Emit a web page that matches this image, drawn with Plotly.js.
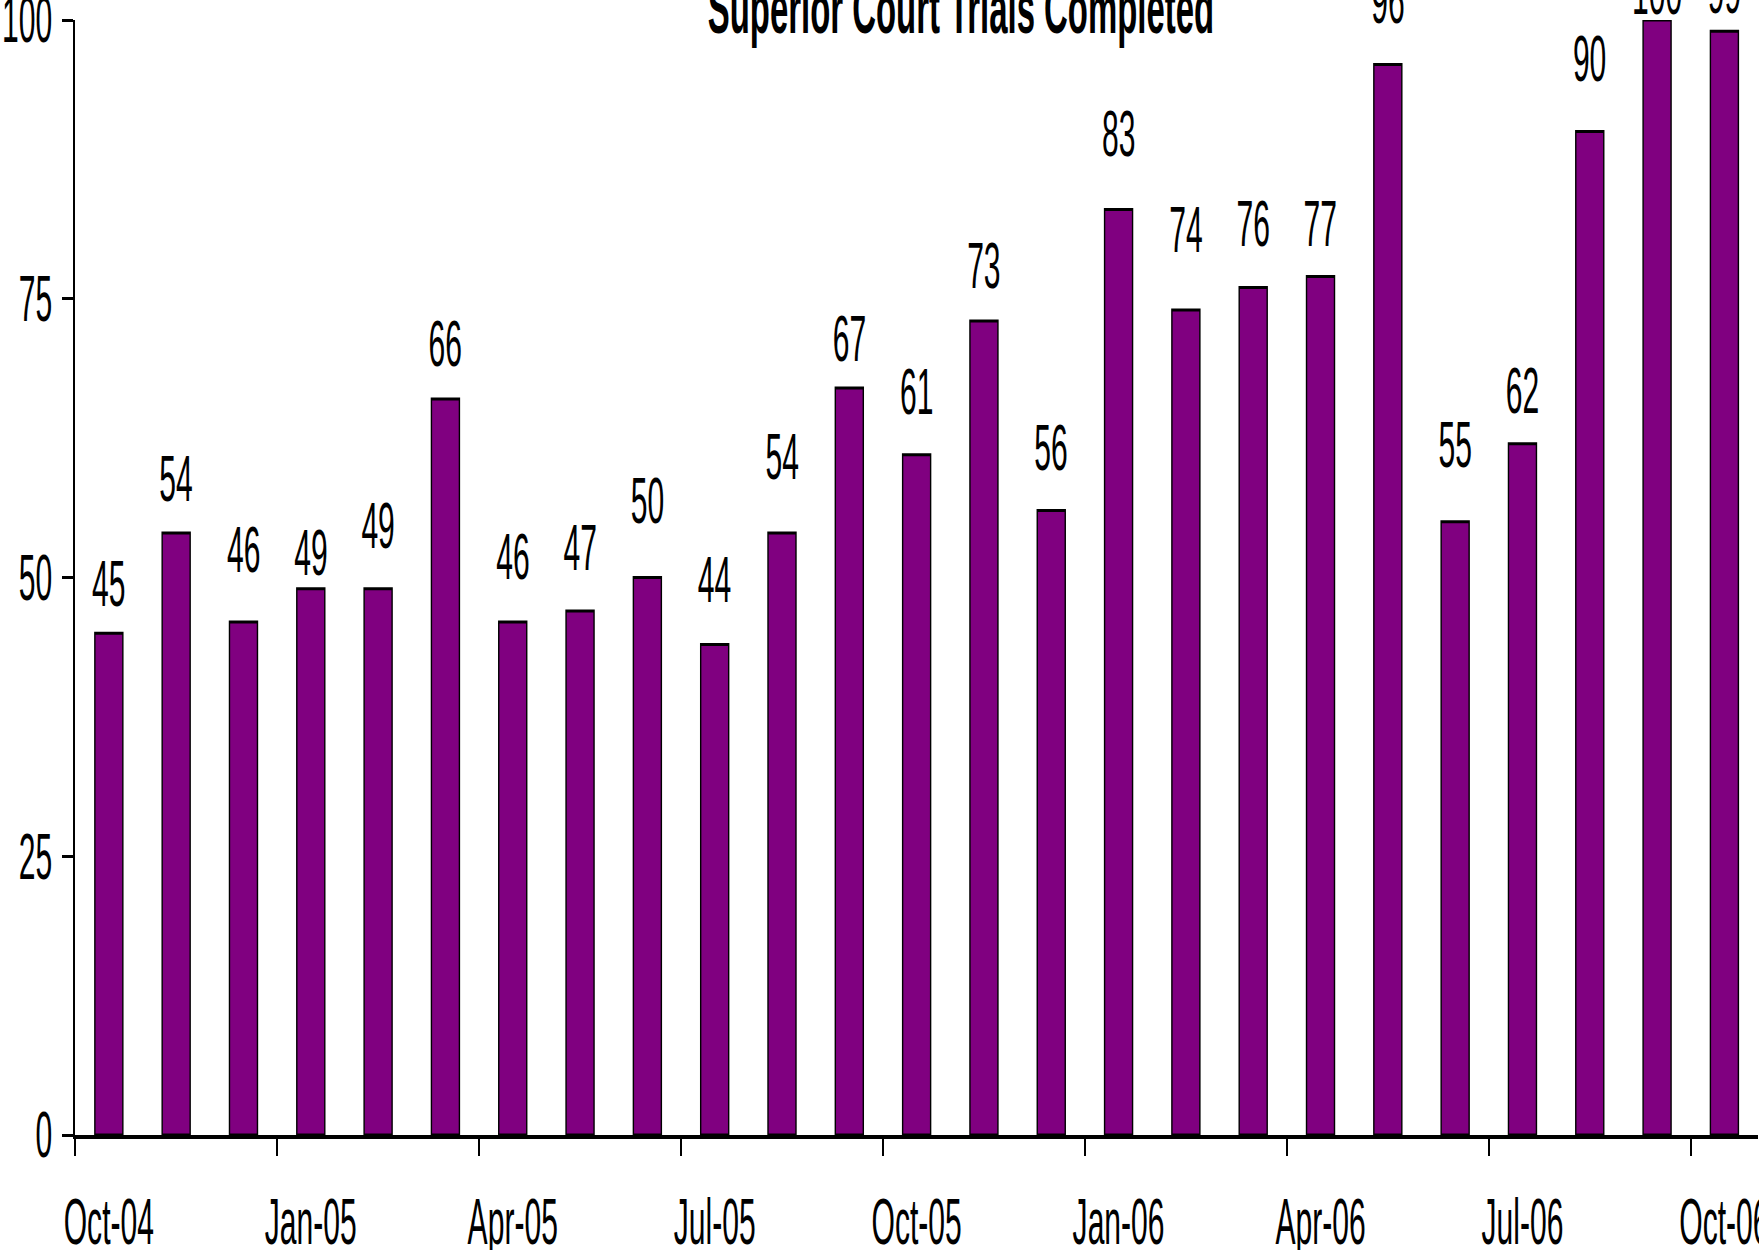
<!DOCTYPE html>
<html>
<head>
<meta charset="utf-8">
<script src="https://cdn.plot.ly/plotly-3.0.1.min.js"></script>
<style>
  html, body { margin: 0; padding: 0; overflow: hidden; background: #fff; }
  #chart { transform-origin: 0 0; }
</style>
</head>
<body>
<div id="chart"></div>
<script>
const months = ['Oct-04', 'Nov-04', 'Dec-04', 'Jan-05', 'Feb-05', 'Mar-05', 'Apr-05', 'May-05', 'Jun-05',
                'Jul-05', 'Aug-05', 'Sep-05', 'Oct-05', 'Nov-05', 'Dec-05', 'Jan-06', 'Feb-06', 'Mar-06',
                'Apr-06', 'May-06', 'Jun-06', 'Jul-06', 'Aug-06', 'Sep-06', 'Oct-06'];
const trials = [45, 54, 46, 49, 49, 66, 46, 47, 50, 44, 54, 67, 61, 73, 56, 83, 74, 76, 77, 96, 55, 62, 90, 100, 99];

// gap in px between bar top and its value label (the original labels sit at uneven heights)
const labelLift = [26, 31, 49, 13, 40, 32, 42, 40, 54, 41, 53, 26, 40, 32, 40, 53, 57, 41, 29, 41, 54, 30, 50, 5, 17];

// the original picture is squeezed sideways, so draw wide and scale the div down in x
const SQUEEZE = 0.47;
const OUT_W = 1759, OUT_H = 1250;
const W = Math.round(OUT_W / SQUEEZE);

const FONT = 'Liberation Sans, Arial, sans-serif';
const FONT_SIZE = 64;
const PURPLE = '#800080';

function buildLayout() {
  const idx = months.map((m, i) => i);
  const labelVals = idx.filter(i => i % 3 === 0);
  const boundaryVals = labelVals.map(i => i - 0.5);

  const annotations = trials.map((v, i) => ({
    x: i,
    y: v,
    text: String(v),
    showarrow: false,
    xanchor: 'center',
    yanchor: 'bottom',
    yshift: labelLift[i] - 15,
    font: {family: FONT, size: FONT_SIZE, color: '#000'}
  }));

  return {
    width: W,
    height: OUT_H,
    margin: {l: 160, r: 2, t: 20, b: 115},
    paper_bgcolor: '#fff',
    plot_bgcolor: '#fff',
    showlegend: false,
    bargap: 0.584,
    title: {
      text: '<b>Superior Court Trials Completed</b>',
      font: {family: FONT, size: 70, color: '#000'},
      xref: 'container', x: 0.5463, xanchor: 'center',
      yref: 'container', y: 1 - 33 / OUT_H, yanchor: 'bottom'
    },
    xaxis: {
      range: [-0.5, 24.5],
      tickmode: 'array',
      tickvals: labelVals,
      ticktext: labelVals.map(i => months[i]),
      ticks: '',
      ticklabelstandoff: 28,
      ticklabeloverflow: 'allow',
      tickfont: {family: FONT, size: FONT_SIZE, color: '#000'},
      minor: {
        tickmode: 'array',
        tickvals: boundaryVals,
        ticks: 'outside',
        ticklen: 17,
        tickwidth: 4,
        tickcolor: '#000',
        showgrid: false
      },
      showline: true,
      linecolor: '#000',
      linewidth: 4,
      showgrid: false,
      zeroline: false,
      fixedrange: true
    },
    yaxis: {
      range: [0, 100],
      tickmode: 'array',
      tickvals: [0, 25, 50, 75, 100],
      ticks: 'outside',
      ticklen: 25,
      tickwidth: 3,
      tickcolor: '#000',
      ticklabelstandoff: 7,
      ticklabeloverflow: 'allow',
      tickfont: {family: FONT, size: FONT_SIZE, color: '#000'},
      showline: true,
      linecolor: '#000',
      linewidth: 4,
      showgrid: false,
      zeroline: false,
      fixedrange: true
    },
    annotations: annotations
  };
}

function draw() {
  const chart = document.getElementById('chart');
  chart.style.width = W + 'px';
  chart.style.height = OUT_H + 'px';
  chart.style.transform = 'scaleX(' + (OUT_W / W) + ')';

  const trace = {
    type: 'bar',
    x: months.map((m, i) => i),
    y: trials,
    marker: {color: PURPLE, line: {color: '#000', width: 3}},
    hoverinfo: 'skip'
  };

  Plotly.newPlot(chart, [trace], buildLayout(), {displayModeBar: false, staticPlot: true});
}

draw();
</script>
</body>
</html>
